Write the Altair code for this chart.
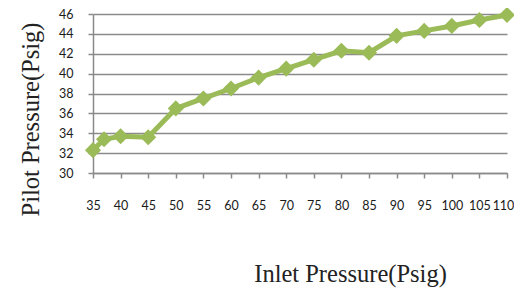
import altair as alt
import pandas as pd

inlet = [35, 37, 40, 45, 50, 55, 60, 65, 70, 75, 80, 85, 90, 95, 100, 105, 110]
pilot = [32.3, 33.4, 33.7, 33.6, 36.5, 37.5, 38.5, 39.6, 40.5, 41.4, 42.3, 42.1,
         43.8, 44.3, 44.8, 45.4, 45.9]
x_ticks = list(range(35, 111, 5))
y_ticks = list(range(30, 47, 2))

df = pd.DataFrame({"inlet": inlet, "pilot": pilot})

GREEN = "#9BBB59"
GRID = "#8a8a8a"

x_enc = alt.X(
    "inlet:Q",
    scale=alt.Scale(domain=[35, 110], nice=False, zero=False),
    axis=alt.Axis(
        values=x_ticks, title="Inlet Pressure(Psig)", grid=False,
        labelOverlap=False, labelFlush=False, labelBound=False,
        labelOffset={"condition": {"test": "datum.value == 110", "value": -4}, "value": 0},
        domainColor=GRID, domainWidth=1.5, tickColor=GRID, tickWidth=1.5,
        tickSize=5, labelPadding=21, labelFont="Lato", labelFontSize=12.5,
        labelColor="#1a1a1a", labelBaseline="top",
        titleFont="Liberation Serif", titleFontSize=24.5, titleFontWeight="normal",
        titleColor="#222222", titleX=257, titleY=108.7, titleAlign="center",
        titleBaseline="alphabetic", titleAnchor="start",
    ),
)
y_enc = alt.Y(
    "pilot:Q",
    scale=alt.Scale(domain=[30, 46], nice=False, zero=False),
    axis=alt.Axis(
        values=y_ticks, title="Pilot Pressure(Psig)", grid=True,
        labelOverlap=False, labelFlush=False,
        gridColor=GRID, gridWidth=1.5,
        domainColor=GRID, domainWidth=1.5, tickColor=GRID, tickWidth=1.5,
        tickSize=5, labelPadding=15, labelFont="Lato", labelFontSize=12.5,
        labelColor="#1a1a1a",
        titleFont="Liberation Serif", titleFontSize=24.5, titleFontWeight="normal",
        titleColor="#222222", titleX=-55, titleY=105, titleAngle=270,
        titleAlign="center", titleBaseline="alphabetic", titleAnchor="start",
    ),
)

base = alt.Chart(df).encode(x=x_enc, y=y_enc)
line = base.mark_line(color=GREEN, strokeWidth=5)
pts = base.mark_point(shape="diamond", size=260, filled=True, color=GREEN, opacity=1)

chart = (
    alt.layer(line, pts)
    .properties(
        width=414, height=159,
        autosize=alt.AutoSizeParams(type="none"),
        padding={"left": 85, "top": 6, "right": 7, "bottom": 115},
        background="white",
    )
    .configure_view(stroke=None)
)

chart.save("out.html", embed_options={"renderer": "svg", "actions": False})
